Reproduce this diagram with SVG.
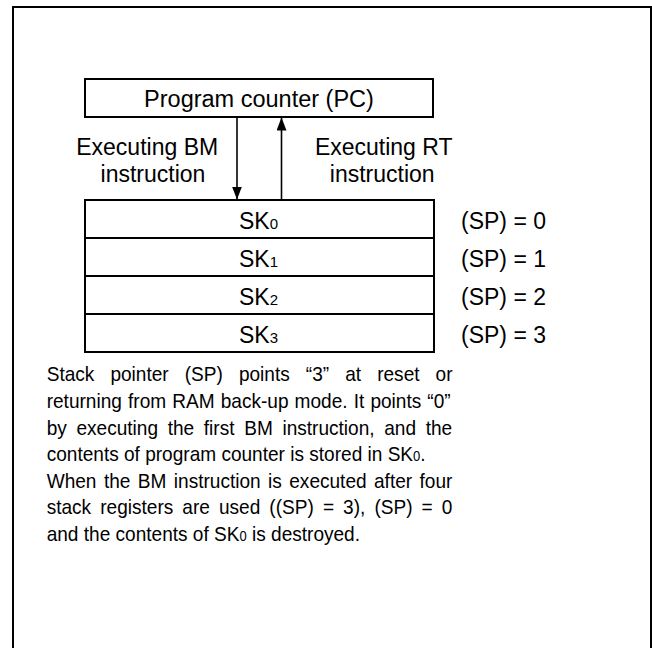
<svg xmlns="http://www.w3.org/2000/svg" width="652" height="648" viewBox="0 0 652 648">
  <defs>
    <style>
      .box { fill: #ffffff; stroke: #000000; stroke-width: 2; }
      .lbl { font-family: "Liberation Sans", Arial, sans-serif; font-size: 23px; fill: #000000; }
      .mid { text-anchor: middle; }
      .sub { font-size: 15px; }
      .para { font-family: "Liberation Sans", Arial, sans-serif; font-size: 20.5px; fill: #000000; }
      .psub { font-size: 14px; }
      .conn { stroke: #000000; stroke-width: 1.6; fill: none; }
    </style>
    <marker id="ah" viewBox="0 0 10 13" refX="10" refY="6.5" markerWidth="10" markerHeight="13" markerUnits="userSpaceOnUse" orient="auto">
      <path d="M0,0 L10,6.5 L0,13 Z" fill="#000000"/>
    </marker>
    <marker id="ah2" viewBox="0 0 13 10" refX="13" refY="5" markerWidth="13" markerHeight="10" markerUnits="userSpaceOnUse" orient="auto">
      <path d="M0,0 L13,5 L0,10 Z" fill="#000000"/>
    </marker>
  </defs>
  <rect x="0" y="0" width="652" height="648" fill="#ffffff"/>
  <rect x="13" y="7" width="638" height="660" fill="none" stroke="#000000" stroke-width="2"/>

  <g id="pc">
    <rect class="box" x="85" y="79" width="348" height="38"/>
    <text class="lbl mid" x="259" y="107.3" style="font-size:23.5px">Program counter (PC)</text>
  </g>

  <g id="stack">
    <g id="sk0">
      <rect class="box" x="85" y="200" width="349" height="38"/>
      <text class="lbl" x="239" y="229.3">SK<tspan class="sub">0</tspan></text>
    </g>
    <g id="sk1">
      <rect class="box" x="85" y="238" width="349" height="38"/>
      <text class="lbl" x="239" y="267.3">SK<tspan class="sub">1</tspan></text>
    </g>
    <g id="sk2">
      <rect class="box" x="85" y="276" width="349" height="38"/>
      <text class="lbl" x="239" y="305.3">SK<tspan class="sub">2</tspan></text>
    </g>
    <g id="sk3">
      <rect class="box" x="85" y="314" width="349" height="38"/>
      <text class="lbl" x="239" y="343.3">SK<tspan class="sub">3</tspan></text>
    </g>
  </g>

  <g id="sp-labels">
    <text class="lbl" x="461" y="229.3">(SP) = 0</text>
    <text class="lbl" x="461" y="267.3">(SP) = 1</text>
    <text class="lbl" x="461" y="305.3">(SP) = 2</text>
    <text class="lbl" x="461" y="343.3">(SP) = 3</text>
  </g>

  <g id="connectors">
    <line class="conn" x1="237" y1="117" x2="237" y2="199.5" marker-end="url(#ah2)"/>
    <line class="conn" x1="281.5" y1="200" x2="281.5" y2="117.5" marker-end="url(#ah2)"/>
  </g>

  <g id="connector-labels">
    <text class="lbl mid" x="147.2" y="155">Executing BM</text>
    <text class="lbl mid" x="153" y="181.7">instruction</text>
    <text class="lbl mid" x="383.7" y="155">Executing RT</text>
    <text class="lbl mid" x="382.2" y="181.7">instruction</text>
  </g>

  <g id="description" transform="scale(0.93,1)">
    <text class="para" x="50.2" y="381.5" style="word-spacing:11.6px">Stack pointer (SP) points “3” at reset or</text>
    <text class="para" x="50.2" y="408.1" style="word-spacing:0.9px">returning from RAM back-up mode. It points “0”</text>
    <text class="para" x="50.2" y="434.7" style="word-spacing:4.7px">by executing the first BM instruction, and the</text>
    <text class="para" x="50.2" y="461.3">contents of program counter is stored in SK<tspan class="psub">0</tspan>.</text>
    <text class="para" x="50.2" y="487.9" style="word-spacing:2.3px">When the BM instruction is executed after four</text>
    <text class="para" x="50.2" y="514.5" style="word-spacing:4.07px">stack registers are used ((SP) = 3), (SP) = 0</text>
    <text class="para" x="50.2" y="541.1">and the contents of SK<tspan class="psub">0</tspan> is destroyed.</text>
  </g>
</svg>
